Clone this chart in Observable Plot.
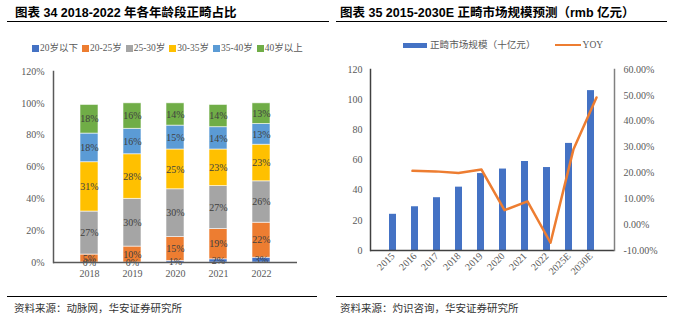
<!DOCTYPE html>
<html><head><meta charset="utf-8">
<script src="https://cdn.jsdelivr.net/npm/d3@7"></script>
<script src="https://cdn.jsdelivr.net/npm/@observablehq/plot@0.6"></script>
<style>
body{margin:0;width:676px;height:326px;position:relative;background:#fff;overflow:hidden;font-family:"Liberation Serif","Noto Sans CJK SC",serif;}
.abs{position:absolute;}
.title{font-family:"Liberation Sans","Noto Sans CJK SC",sans-serif;font-weight:bold;font-size:12.5px;color:#000;white-space:nowrap;line-height:16px}
.hr{position:absolute;height:0;border-top:1.3px solid #000}
.note{font-family:"Noto Sans CJK SC",sans-serif;font-size:10.5px;color:#333;line-height:14px;white-space:nowrap}
.legend{display:flex;align-items:center;font-size:9.5px;color:#595959;white-space:nowrap;line-height:12px}
.plotbox{position:absolute}
.plotbox svg{display:block}
</style>
</head><body>
<div class="abs title" style="left:15px;top:5px">图表 34 2018-2022 年各年龄段正畸占比</div>
<div class="hr" style="left:7px;top:21px;width:322px"></div>
<div class="abs title" style="left:340px;top:5px">图表 35 2015-2030E 正畸市场规模预测（rmb 亿元）</div>
<div class="hr" style="left:336px;top:21px;width:331px"></div>
<div id="legL" class="abs legend" style="left:32px;top:42px"></div>
<div id="legR" class="abs legend" style="left:403px;top:39px"></div>
<div id="chartL" class="plotbox" style="left:0px;top:60px"></div>
<div id="chartR1" class="plotbox" style="left:336px;top:58px"></div>
<div id="chartR2" class="plotbox" style="left:336px;top:58px"></div>
<div class="hr" style="left:7px;top:296px;width:310px"></div>
<div class="hr" style="left:336px;top:296px;width:331px"></div>
<div class="abs note" style="left:14px;top:301px">资料来源：动脉网，华安证券研究所</div>
<div class="abs note" style="left:340px;top:301px">资料来源：灼识咨询，华安证券研究所</div>
<script>
// ---- Left chart data ----
const years = ["2018","2019","2020","2021","2022"];
const groups = ["20岁以下","20-25岁","25-30岁","30-35岁","35-40岁","40岁以上"];
const groupColors = ["#4472C4","#ED7D31","#A5A5A5","#FFC000","#5B9BD5","#70AD47"];
const under20 = [0,0,1,2,3];
const age20to25 = [5,10,15,19,22];
const age25to30 = [27,30,30,27,26];
const age30to35 = [31,28,25,23,23];
const age35to40 = [18,16,15,14,13];
const over40 = [18,16,14,14,13];
const leftTicks = [0,20,40,60,80,100,120];

// ---- Right chart data ----
const periods = ["2015","2016","2017","2018","2019","2020","2021","2022","2025E","2030E"];
const marketSize = [24,29,35,42,51,54,59,55,71,106];
const yoy = [null,20.8,20.6,20.0,21.3,5.6,9.0,-7.0,29.2,49.2];
const rightLeftTicks = [0,20,40,60,80,100,120];
const rightRightTicks = [-10,0,10,20,30,40,50,60];
const barLabel = "正畸市场规模（十亿元）";
const lineLabel = "YOY";
const barColor = "#4472C4";
const lineColor = "#ED7D31";

const font = "Liberation Serif, Noto Sans CJK SC, serif";
const baseStyle = {fontFamily: font, fontSize: "10px", color: "#595959", background: "transparent", overflow: "visible"};

const seriesVals = [under20, age20to25, age25to30, age30to35, age35to40, over40];
const rows = years.flatMap((yr, i) => groups.map((g, j) => ({year: yr, group: g, value: seriesVals[j][i]})));

const left = Plot.plot({
  width: 336, height: 222, marginLeft: 53, marginRight: 39, marginTop: 11, marginBottom: 20,
  style: baseStyle,
  x: {domain: years, padding: 0.59, label: null},
  y: {domain: [0, 120], label: null},
  color: {domain: groups, range: groupColors},
  marks: [
    Plot.barY(rows, {x: "year", y: "value", fill: "group", stroke: "white", strokeWidth: 0.8, strokeOpacity: 0.7}),
    Plot.text(rows, Plot.stackY({x: "year", y: "value", z: "group", text: d => d.value + "%", fill: "#404040", fontSize: 10})),
    Plot.axisY({ticks: leftTicks, tickFormat: d => d + "%", tickSize: 0, tickPadding: 9, label: null}),
    Plot.axisX({tickSize: 0, tickPadding: 7, label: null}),
    Plot.ruleY([0], {stroke: "#595959", strokeWidth: 1.5}),
    Plot.frame({anchor: "left", stroke: "#595959", strokeWidth: 1.5})
  ]
});
document.getElementById("chartL").appendChild(left);

// left legend
const legL = document.getElementById("legL");
groups.forEach((g, i) => {
  const item = document.createElement("span");
  item.style.cssText = "display:flex;align-items:center;margin-right:4px";
  item.innerHTML = `<span style="display:inline-block;width:7px;height:7px;background:${groupColors[i]};margin-right:1px"></span><span>${g}</span>`;
  legL.appendChild(item);
});

const barRows = periods.map((p, i) => ({period: p, value: marketSize[i]}));
const yoyRows = periods.map((p, i) => ({period: p, yoy: yoy[i]})).filter(d => d.yoy != null);

const dims = {width: 340, height: 232, marginLeft: 34, marginRight: 62, marginTop: 11, marginBottom: 40};

const r1 = Plot.plot({
  ...dims,
  style: baseStyle,
  x: {domain: periods, padding: 0.67, label: null},
  y: {domain: [0, 120], label: null},
  marks: [
    Plot.barY(barRows, {x: "period", y: "value", fill: barColor}),
    Plot.axisY({ticks: rightLeftTicks, tickSize: 0, tickPadding: 8, label: null}),
    Plot.axisX({tickRotate: -45, tickSize: 0, tickPadding: 4, label: null}),
    Plot.ruleY([0], {stroke: "#404040", strokeWidth: 1.5}),
    Plot.frame({anchor: "left", stroke: "#404040", strokeWidth: 1.5})
  ]
});
document.getElementById("chartR1").appendChild(r1);

const r2 = Plot.plot({
  ...dims,
  style: baseStyle,
  x: {domain: periods, padding: 0.67, label: null, axis: null},
  y: {domain: [-10, 60], label: null, axis: null},
  marks: [
    Plot.lineY(yoyRows, {x: "period", y: "yoy", stroke: lineColor, strokeWidth: 2.5}),
    Plot.axisY({anchor: "right", ticks: rightRightTicks, tickFormat: d => d.toFixed(2) + "%", tickSize: 0, tickPadding: 9, label: null}),
    Plot.frame({anchor: "right", stroke: "#808080", strokeWidth: 1.5})
  ]
});
document.getElementById("chartR2").appendChild(r2);

// right legend
const legR = document.getElementById("legR");
legR.innerHTML = `<span style="display:inline-block;width:24px;height:5px;background:${barColor};margin-right:3px"></span><span style="font-size:9.6px;margin-right:19px">${barLabel}</span><span style="display:inline-block;width:26px;height:2.5px;background:${lineColor};margin-right:2px"></span><span>${lineLabel}</span>`;
</script>
</body></html>
